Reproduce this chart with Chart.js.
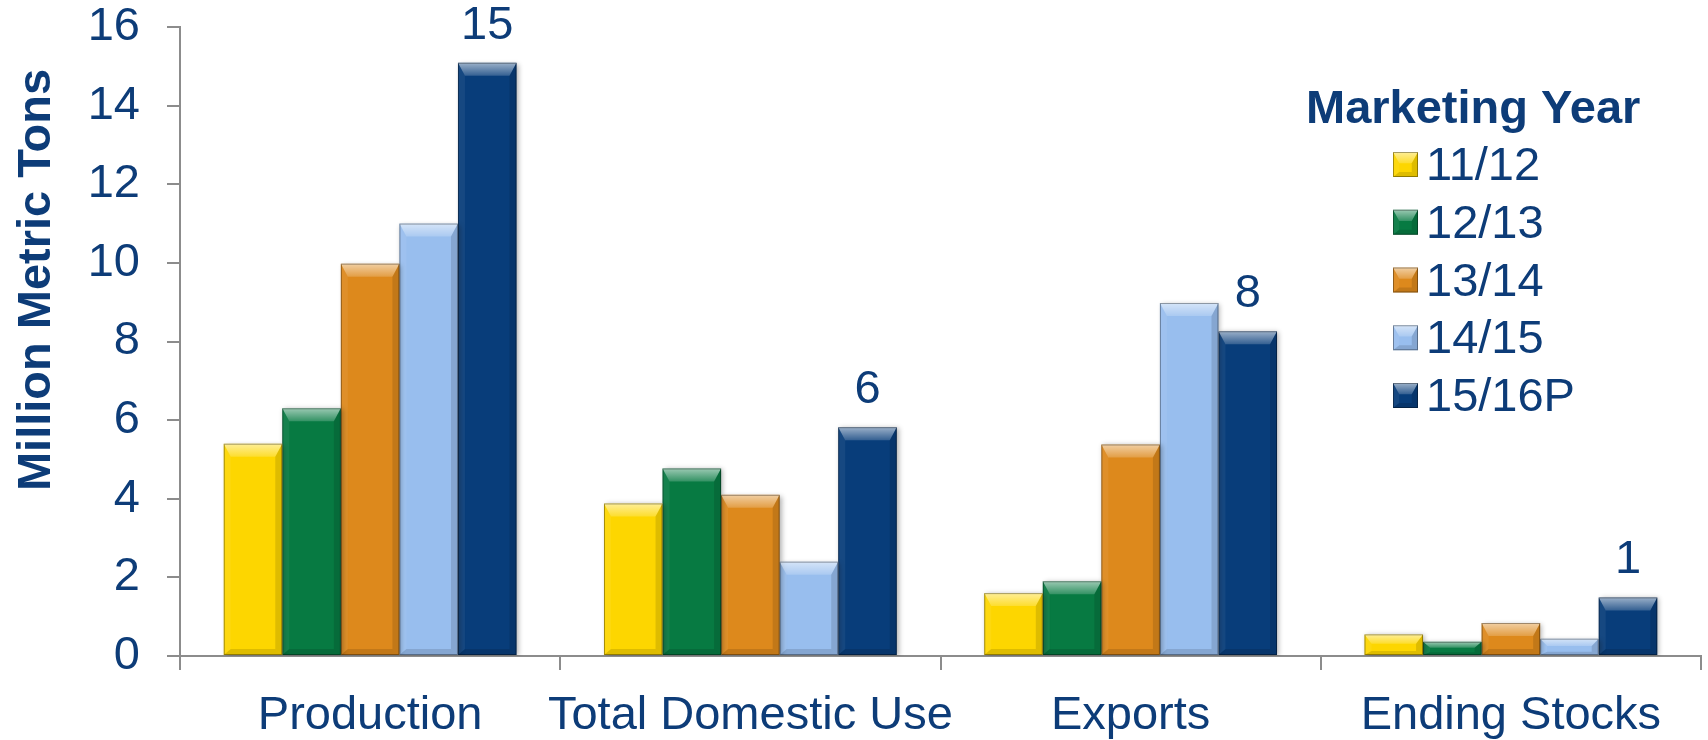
<!DOCTYPE html>
<html>
<head>
<meta charset="utf-8">
<title>Supply and Use by Marketing Year</title>
<script src="https://cdn.jsdelivr.net/npm/chart.js@4.4.1/dist/chart.umd.min.js"></script>
<style>
  html, body { margin: 0; padding: 0; background: #fff; }
  canvas { display: block; }
</style>
</head>
<body>
<canvas id="supplyChart" width="1708" height="740"></canvas>
<script>
// million metric tons, per category
const categories = ["Production", "Total Domestic Use", "Exports", "Ending Stocks"];
const years = ["11/12", "12/13", "13/14", "14/15", "15/16P"];
const my1112 = [5.4, 3.88, 1.6, 0.55];
const my1213 = [6.3, 4.77, 1.9, 0.36];
const my1314 = [9.98, 4.1, 5.38, 0.84];
const my1415 = [11.0, 2.4, 8.98, 0.44];
const my1516 = [15.09, 5.82, 8.26, 1.49];
const yTicks = [0, 2, 4, 6, 8, 10, 12, 14, 16];

const barColors = ["#FDD600", "#077A42", "#DD891C", "#98BEEE", "#083D7A"];
const navy = "#0D3C78";
const axisGray = "#8c8c8c";
const fontFamily = "'Liberation Sans', Arial, sans-serif";
const textSize = 47;

function poly(ctx, pts, fill) {
  ctx.beginPath();
  ctx.moveTo(pts[0][0], pts[0][1]);
  for (let i = 1; i < pts.length; i++) ctx.lineTo(pts[i][0], pts[i][1]);
  ctx.closePath();
  ctx.fillStyle = fill;
  ctx.fill();
}

// bevelled look on top of a flat rectangle
function bevel(ctx, x0, y0, x1, y1, top) {
  const w = x1 - x0, h = y1 - y0;
  const s = Math.min(7, w / 4);
  const t = Math.min(top, h * 0.45);
  const b = Math.min(6, h * 0.2);
  const g = ctx.createLinearGradient(0, y0, 0, y0 + t);
  g.addColorStop(0, "rgba(255,255,255,0.6)");
  g.addColorStop(1, "rgba(255,255,255,0.18)");
  poly(ctx, [[x0, y0], [x1, y0], [x1 - s, y0 + t], [x0 + s, y0 + t]], g);
  poly(ctx, [[x0, y1], [x1, y1], [x1 - s, y1 - b], [x0 + s, y1 - b]], "rgba(0,0,0,0.12)");
  poly(ctx, [[x0, y0], [x0 + s, y0 + t], [x0 + s, y1 - b], [x0, y1]], "rgba(255,255,255,0.06)");
  poly(ctx, [[x1, y0], [x1 - s, y0 + t], [x1 - s, y1 - b], [x1, y1]], "rgba(0,0,0,0.12)");
  ctx.strokeStyle = "rgba(0,0,0,0.35)";
  ctx.lineWidth = 1;
  ctx.strokeRect(x0 + 0.5, y0 + 0.5, w - 1, h - 1);
}

const barShadow = {
  id: "barShadow",
  beforeDatasetsDraw(chart) {
    const ctx = chart.ctx;
    ctx.save();
    ctx.shadowColor = "rgba(0,0,0,0.3)";
    ctx.shadowBlur = 5;
    ctx.shadowOffsetX = 2;
    ctx.shadowOffsetY = 1;
  },
  afterDatasetsDraw(chart) {
    const ctx = chart.ctx;
    ctx.restore();
    chart.data.datasets.forEach((ds, i) => {
      chart.getDatasetMeta(i).data.forEach(bar => {
        const half = bar.width / 2;
        bevel(ctx, bar.x - half, bar.y, bar.x + half, bar.base, 13);
      });
    });
  }
};

// rounded value above the latest year's bars
const lastYearLabels = {
  id: "lastYearLabels",
  afterDatasetsDraw(chart) {
    const ctx = chart.ctx;
    const last = chart.data.datasets.length - 1;
    const values = chart.data.datasets[last].data;
    ctx.save();
    ctx.font = textSize + "px " + fontFamily;
    ctx.fillStyle = navy;
    ctx.textAlign = "center";
    ctx.textBaseline = "alphabetic";
    chart.getDatasetMeta(last).data.forEach((bar, j) => {
      ctx.fillText(values[j].toFixed(0), bar.x, bar.y - 24);
    });
    ctx.restore();
  }
};

const sideTitleAndLegend = {
  id: "sideTitleAndLegend",
  afterDraw(chart) {
    const ctx = chart.ctx;
    ctx.save();
    ctx.fillStyle = navy;

    // y axis title
    ctx.save();
    ctx.translate(50, 280);
    ctx.rotate(-Math.PI / 2);
    ctx.font = "bold " + textSize + "px " + fontFamily;
    ctx.textAlign = "center";
    ctx.textBaseline = "alphabetic";
    ctx.fillText("Million Metric Tons", 0, 0);
    ctx.restore();

    // legend box
    ctx.font = "bold " + textSize + "px " + fontFamily;
    ctx.textAlign = "left";
    ctx.textBaseline = "alphabetic";
    ctx.fillText("Marketing Year", 1306, 123);
    ctx.font = textSize + "px " + fontFamily;
    chart.data.datasets.forEach((ds, i) => {
      const base = 180 + i * 57.75;
      ctx.fillStyle = ds.backgroundColor;
      ctx.fillRect(1393, base - 28, 25, 25);
      bevel(ctx, 1393, base - 28, 1418, base - 3, 12);
      ctx.fillStyle = navy;
      ctx.fillText(ds.label, 1426, base);
    });
    ctx.restore();
  }
};

const series = [my1112, my1213, my1314, my1415, my1516];

new Chart(document.getElementById("supplyChart"), {
  type: "bar",
  data: {
    labels: categories,
    datasets: series.map((values, i) => ({
      label: years[i],
      data: values,
      backgroundColor: barColors[i],
      borderWidth: 0,
      categoryPercentage: 0.77,
      barPercentage: 1.0
    }))
  },
  options: {
    responsive: false,
    animation: false,
    devicePixelRatio: 1,
    layout: { padding: { top: 0, right: 7, left: 0, bottom: 0 } },
    plugins: {
      legend: { display: false },
      tooltip: { enabled: false }
    },
    scales: {
      x: {
        grid: { display: true, drawOnChartArea: false, drawTicks: true, tickLength: 14, color: axisGray, lineWidth: 2 },
        border: { display: true, color: axisGray, width: 2 },
        ticks: { color: navy, padding: 18, autoSkip: false, maxRotation: 0, font: { family: fontFamily, size: textSize } },
        afterFit(scale) { scale.height = 84; }
      },
      y: {
        min: 0,
        max: 16,
        afterBuildTicks(scale) { scale.ticks = yTicks.map(v => ({ value: v })); },
        grid: { display: true, drawOnChartArea: false, drawTicks: true, tickLength: 13, color: axisGray, lineWidth: 2 },
        border: { display: true, color: axisGray, width: 2 },
        ticks: { color: navy, padding: 27, font: { family: fontFamily, size: textSize } },
        afterFit(scale) {
          scale.width = 180;
          scale.paddingTop = 27;
          scale.paddingBottom = 0;
        }
      }
    }
  },
  plugins: [barShadow, lastYearLabels, sideTitleAndLegend]
});
</script>
</body>
</html>
